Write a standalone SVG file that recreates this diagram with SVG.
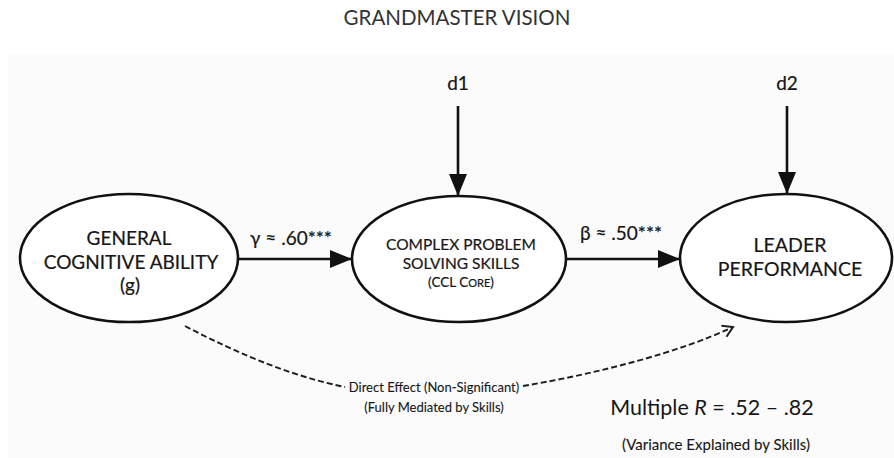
<svg xmlns="http://www.w3.org/2000/svg" width="894" height="458" viewBox="0 0 894 458">
  <defs>
    <style>
      .node { fill: #ffffff; stroke: #111111; stroke-width: 2.6; }
      .lbl { font-family: Lato, "Noto Sans", "DejaVu Sans", sans-serif; fill: #161616; stroke: #161616; stroke-width: 0.2; text-anchor: middle; }
      .edge { stroke: #111111; stroke-width: 2.6; fill: none; }
      .dash { stroke: #1e1e1e; stroke-width: 1.9; fill: none; stroke-dasharray: 6 3; }
    </style>
    <marker id="solid" markerUnits="userSpaceOnUse" markerWidth="24" markerHeight="20" refX="22" refY="9" orient="auto">
      <path d="M0,0 L22,9 L0,18 Z" fill="#111111"/>
    </marker>
    <marker id="open" markerUnits="userSpaceOnUse" markerWidth="16" markerHeight="16" refX="12" refY="7" orient="auto">
      <path d="M2,1 L12,7 L2,13" fill="none" stroke="#1e1e1e" stroke-width="2"/>
    </marker>
  </defs>

  <rect x="0" y="0" width="894" height="458" fill="#ffffff"/>
  <rect x="8" y="54" width="886" height="404" fill="#fbfbfb"/>

  <text class="lbl" x="457" y="25" font-size="20.5" style="fill:#333333;stroke:none">GRANDMASTER VISION</text>

  <g id="connectors">
    <line class="edge" x1="238" y1="259" x2="352" y2="259" marker-end="url(#solid)"/>
    <line class="edge" x1="567" y1="259" x2="680" y2="259" marker-end="url(#solid)"/>
    <line class="edge" x1="458" y1="106" x2="458" y2="196" marker-end="url(#solid)"/>
    <line class="edge" x1="787" y1="106" x2="787" y2="194" marker-end="url(#solid)"/>
    <path class="dash" d="M185,326 C240,355 295,377 345,387"/>
    <path class="dash" d="M523,386 C600,373 680,352 733,327" marker-end="url(#open)"/>
    <text class="lbl" x="291" y="245" font-size="19">γ ≈ .60***</text>
    <text class="lbl" x="621" y="240" font-size="19">β ≈ .50***</text>
    <text class="lbl" x="434" y="392" font-size="13" style="stroke-width:0.1">Direct Effect (Non-Significant)</text>
    <text class="lbl" x="434" y="412" font-size="13" style="stroke-width:0.1">(Fully Mediated by Skills)</text>
  </g>

  <g id="d1">
    <text class="lbl" x="458" y="90" font-size="19">d1</text>
  </g>
  <g id="d2">
    <text class="lbl" x="787" y="90" font-size="19">d2</text>
  </g>

  <g id="gca">
    <ellipse class="node" cx="129" cy="258" rx="109" ry="64"/>
    <text class="lbl" x="129" y="245" font-size="19">GENERAL</text>
    <text class="lbl" x="131" y="269" font-size="19">COGNITIVE ABILITY</text>
    <text class="lbl" x="130" y="292" font-size="19">(g)</text>
  </g>

  <g id="cps">
    <ellipse class="node" cx="459" cy="259" rx="107" ry="63"/>
    <text class="lbl" x="461" y="250" font-size="15.5">COMPLEX PROBLEM</text>
    <text class="lbl" x="461" y="269" font-size="15.5">SOLVING SKILLS</text>
    <text class="lbl" x="461" y="287" font-size="13.5">(CCL C<tspan font-size="11">ORE</tspan>)</text>
  </g>

  <g id="leader">
    <ellipse class="node" cx="786" cy="258" rx="106" ry="64"/>
    <text class="lbl" x="790" y="252" font-size="19.5">LEADER</text>
    <text class="lbl" x="790" y="276" font-size="19.5">PERFORMANCE</text>
  </g>

  <g id="summary">
    <text class="lbl" x="712" y="415" font-size="21.5" style="stroke:none">Multiple <tspan font-style="italic">R</tspan> = .52 – .82</text>
    <text class="lbl" x="716" y="450" font-size="15" style="stroke-width:0.1">(Variance Explained by Skills)</text>
  </g>
</svg>
